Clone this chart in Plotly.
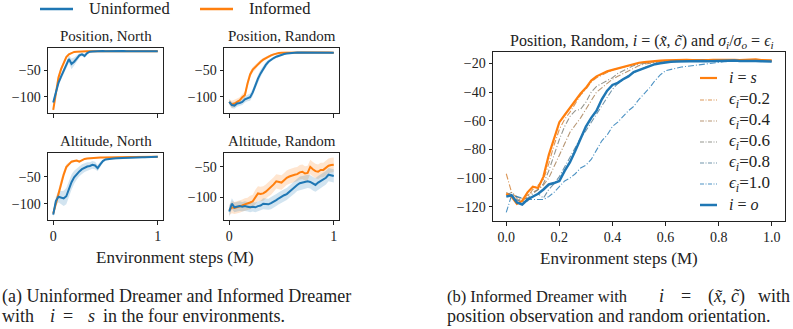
import plotly.graph_objects as go

W, H = 793, 329

# ---------------- data: left panel (four environments) ----------------
left_x = [0.0, 0.025, 0.05, 0.075, 0.1, 0.125, 0.15, 0.175, 0.2, 0.225, 0.25, 0.275, 0.3, 0.325,
          0.35, 0.375, 0.4, 0.425, 0.45, 0.475, 0.5, 0.525, 0.55, 0.575, 0.6, 0.625, 0.65, 0.675,
          0.7, 0.725, 0.75, 0.775, 0.8, 0.825, 0.85, 0.875, 0.9, 0.925, 0.95, 0.975, 1.0]

pos_north_unin = [-111, -90, -74, -62, -52, -40, -29, -38, -34, -28, -22, -20, -23, -17.5, -15, -14.5,
                  -14, -14.3, -14, -13.8, -14.2, -14, -14.1, -13.9, -14, -14.2, -14, -13.9, -14.1, -14,
                  -14, -13.8, -14, -14.2, -14, -13.9, -14, -14.1, -14, -13.9, -14.2]
pos_north_unin_sd = [6, 6, 5, 5, 5, 6, 7, 10, 8, 6, 4, 3, 4, 2, 1.5, 1, 1, 1, 1, 1, 1, 1, 1, 1, 1, 1,
                     1, 1, 1, 1, 1, 1, 1, 1, 1, 1, 1, 1, 1, 1, 1]
pos_north_inf = [-125, -92, -64, -48, -35, -25, -20, -17, -15.5, -15, -14.5, -14.3, -14.2, -14, -14.1,
                 -13.9, -14, -14.1, -14, -13.9, -14, -14.2, -14, -13.9, -14, -14.1, -14, -13.9, -14.1,
                 -14, -14, -13.9, -14, -14.1, -14, -13.9, -14, -14.1, -14, -13.9, -14.1]
pos_north_inf_sd = [4, 6, 6, 5, 4, 3, 2, 1.5, 1, 1, 1, 1, 1, 1, 1, 1, 1, 1, 1, 1, 1, 1, 1, 1, 1, 1, 1,
                    1, 1, 1, 1, 1, 1, 1, 1, 1, 1, 1, 1, 1, 1]

pos_rand_unin = [-110, -116, -117, -113, -112, -110, -105, -103, -101, -92, -78, -66, -56, -47, -40,
                 -34, -30, -27, -24.5, -22.5, -21, -19.5, -18.5, -17.5, -17, -16.8, -16.5, -16.6, -16.3,
                 -16.5, -16.2, -16.4, -16.5, -16.3, -16.4, -16.6, -16.3, -16.5, -16.8, -16.6, -17]
pos_rand_unin_sd = [5, 6, 6, 6, 6, 6, 6, 6, 7, 7, 7, 7, 7, 6, 5, 4, 3, 3, 2.5, 2, 2, 2, 1.5, 1.5, 1.5,
                    1.5, 1.5, 1.5, 1.5, 1.5, 1.5, 1.5, 1.5, 1.5, 1.5, 1.5, 1.5, 1.5, 1.5, 1.5, 1.5]
pos_rand_inf = [-110, -115, -113, -110, -107, -101, -97, -75, -58, -49, -44, -38, -34, -30, -27, -24,
                -22, -20, -18.5, -17.5, -17, -16.8, -16.5, -16.7, -16.4, -16.6, -16.3, -16.5, -16.6,
                -16.4, -16.3, -16.5, -16.6, -16.4, -16.5, -16.3, -16.6, -16.5, -16.4, -16.7, -16.8]
pos_rand_inf_sd = [5, 7, 7, 6, 6, 6, 6, 7, 6, 5, 5, 4, 4, 3, 3, 2.5, 2, 2, 1.5, 1.5, 1.5, 1.2, 1.2, 1.2,
                   1.2, 1.2, 1.2, 1.2, 1.2, 1.2, 1.2, 1.2, 1.2, 1.2, 1.2, 1.2, 1.2, 1.2, 1.2, 1.2, 1.2]

alt_north_unin = [-120, -95, -87, -88, -90, -86, -72, -60, -51, -45, -40, -36, -33, -31, -30, -28, -29,
                  -34, -27, -21, -18, -17, -16.5, -16, -15.8, -15.5, -15.3, -15, -15, -14.8, -14.5,
                  -14.6, -14.3, -14, -14, -13.8, -13.6, -13.5, -13.4, -13.2, -13]
alt_north_unin_sd = [5, 8, 10, 12, 14, 15, 15, 14, 12, 10, 9, 9, 8, 8, 7, 7, 7, 6, 5, 3, 2, 1.5, 1.5,
                     1.5, 1.5, 1.5, 1.5, 1.5, 1.5, 1.5, 1.5, 1.5, 1.5, 1.5, 1.5, 1.5, 1.5, 1.5, 1.5,
                     1.5, 1.5]
alt_north_inf = [-118, -100, -82, -62, -46, -32, -26, -22, -21, -20, -22, -19, -17, -16, -15.5, -15,
                 -14.8, -14.6, -14.5, -14.4, -14.2, -14.1, -14, -14, -13.9, -13.8, -13.7, -13.7, -13.6,
                 -13.5, -13.4, -13.4, -13.3, -13.2, -13.2, -13.1, -13, -13, -12.9, -12.8, -12.8]
alt_north_inf_sd = [4, 8, 10, 9, 7, 5, 3, 2, 2, 2, 2, 1.5, 1.5, 1, 1, 1, 1, 1, 1, 1, 1, 1, 1, 1, 1, 1,
                    1, 1, 1, 1, 1, 1, 1, 1, 1, 1, 1, 1, 1, 1, 1]

alt_rand_unin = [-124, -111, -117, -116, -115, -116, -115, -116, -117, -116, -117, -115, -114, -111,
                 -112, -112, -110, -108, -105, -102, -99, -97, -95, -91, -87, -84, -80, -77, -76, -75,
                 -74, -75, -78, -80, -76, -73, -71, -68, -63, -64, -65]
alt_rand_unin_sd = [9, 9, 8, 8, 8, 8, 8, 8, 8, 8, 8, 8, 8, 9, 9, 9, 10, 10, 10, 10, 10, 10, 10, 10, 10,
                    10, 10, 11, 11, 11, 11, 11, 11, 11, 11, 11, 11, 11, 11, 11, 11]
alt_rand_inf = [-122, -117, -118, -117, -116, -114, -112, -111, -109, -107, -100, -94, -95, -94, -91,
                -87, -84, -79, -74, -75, -76, -72, -68, -66, -64, -63, -62, -59, -58, -61, -60, -50,
                -54, -57, -58, -55, -55, -52, -48, -47, -46.5]
alt_rand_inf_sd = [8, 10, 10, 10, 10, 10, 10, 10, 11, 11, 12, 12, 12, 12, 12, 12, 12, 12, 12, 12, 12,
                   12, 12, 12, 12, 12, 12, 12, 12, 12, 12, 12, 12, 12, 12, 12, 12, 12, 12, 12, 12]

# ---------------- data: right panel (noise levels) ----------------
right_x = [0.0, 0.02, 0.04, 0.06, 0.08, 0.1, 0.12, 0.14, 0.16, 0.18, 0.2, 0.22, 0.24, 0.26, 0.28, 0.3,
           0.32, 0.34, 0.36, 0.38, 0.4, 0.42, 0.44, 0.46, 0.48, 0.5, 0.52, 0.54, 0.56, 0.58, 0.6,
           0.62, 0.64, 0.66, 0.68, 0.7, 0.72, 0.74, 0.76, 0.78, 0.8, 0.82, 0.84, 0.86, 0.88, 0.9,
           0.92, 0.94, 0.96, 0.98, 1.0]

inf_s = [-111, -113, -118, -116, -110, -106, -107, -99, -84, -72, -61, -56, -51, -46, -41, -37, -32,
         -29, -27, -25.5, -24.5, -23.5, -22, -21, -20, -19.5, -19, -18.5, -18.3, -18, -17.8, -17.6,
         -17.8, -17.5, -17.4, -17.7, -17.5, -17.3, -17.6, -17.5, -17.4, -17.6, -17.3, -17.5, -17.7,
         -17.4, -17.5, -17.2, -17.6, -17.8, -17.9]
eps_02 = [-97, -110, -114, -116, -113, -108, -105, -101, -90, -77, -66, -59, -54, -48, -42, -38, -33,
          -30, -28, -26, -24.5, -23.5, -22.5, -21.5, -20.5, -19.8, -19.2, -18.8, -18.5, -18.2, -18,
          -17.9, -18.1, -17.8, -17.9, -18, -17.7, -17.9, -18, -17.8, -17.9, -18.1, -17.8, -17.9, -18,
          -17.8, -17.9, -18.1, -18, -18.2, -18.3]
eps_04 = [-110, -112, -116, -114, -112, -110, -108, -105, -100, -92, -84, -76, -68, -63, -58, -52, -46,
          -40, -37, -34, -31, -29, -27, -25, -23, -21.5, -20.5, -19.8, -19.2, -18.8, -18.5, -18.3,
          -18.4, -18.2, -18.1, -18.3, -18, -18.2, -18.1, -17.9, -18.1, -18, -18.2, -17.9, -18, -18.1,
          -17.9, -18, -18.2, -18.1, -18.3]
eps_06 = [-112, -110, -113, -115, -114, -111, -108, -104, -95, -84, -73, -64, -57, -53, -52, -47, -40,
          -36, -34, -32, -30, -27, -25, -23, -21.5, -20.5, -19.8, -19.2, -18.8, -18.5, -18.3, -18.2,
          -18.4, -18.1, -18.2, -18, -18.3, -18.1, -17.9, -18.2, -18, -18.1, -17.9, -18.2, -18, -18.1,
          -18.3, -18, -18.2, -18.3, -18.4]
eps_08 = [-111, -113, -115, -117, -116, -113, -111, -114, -108, -104, -99, -92, -85, -78, -72, -67, -61,
          -55, -49, -43, -38, -34, -31, -28.5, -26.5, -24.5, -23, -21.5, -20.5, -19.8, -19.2, -18.9,
          -18.7, -18.5, -18.6, -18.4, -18.3, -18.5, -18.2, -18.4, -18.3, -18.1, -18.4, -18.2, -18.3,
          -18.5, -18.3, -18.4, -18.6, -18.5, -18.7]
eps_10 = [-124, -112, -113, -114, -115, -115, -115, -115, -113, -110, -106, -102, -100, -97, -93, -91,
          -87, -81, -74, -70, -64, -61, -57, -53, -50, -45, -41, -37, -32, -28, -25, -24, -23, -22.5,
          -22, -21.5, -21, -20.5, -20, -19.5, -19, -18.8, -18.6, -18.5, -18.4, -18.3, -18.4, -18.2,
          -18.3, -18.4, -18.5]
inf_o = [-113, -112, -117, -118.5, -115, -113, -111, -108, -104.5, -103.5, -102, -95, -89, -81, -73,
         -64, -58, -53, -45, -39, -35, -33.5, -31, -29, -26, -24.5, -23, -21.5, -20.5, -19.8, -19.2,
         -18.8, -18.6, -18.5, -18.3, -18.6, -18.4, -18.2, -18.5, -18.3, -18.1, -18.4, -18.2, -18.0,
         -18.3, -18.1, -17.9, -18.2, -18.4, -18.6, -18.7]

left_titles = ["Position, North", "Position, Random", "Altitude, North", "Altitude, Random"]
legend_top = ["Uninformed", "Informed"]
eps_labels = ["0.2", "0.4", "0.6", "0.8", "1.0"]
left_yticks = [-50, -100]
right_yticks = [-20, -40, -60, -80, -100, -120]
right_xticks = [0.0, 0.2, 0.4, 0.6, 0.8, 1.0]

# ---------------- styling ----------------
BLUE = "#1f77b4"
ORANGE = "#ff7f0e"
AXC = "#222222"
FONT = "Liberation Serif, Times New Roman, serif"
eps_colors = ["rgba(210,125,47,0.8)", "rgba(165,124,80,0.8)", "rgba(121,122,114,0.8)",
              "rgba(76,120,147,0.8)", "rgba(31,119,180,0.8)"]


def px(x):
    return x / W


def py(y):
    return 1 - y / H


fig = go.Figure()

panels = [
    (48, 163, 48, 113, [-131, -8], pos_north_unin, pos_north_unin_sd, pos_north_inf, pos_north_inf_sd, False),
    (224, 339, 48, 113, [-131, -8], pos_rand_unin, pos_rand_unin_sd, pos_rand_inf, pos_rand_inf_sd, False),
    (48, 163, 153, 220, [-130, -6], alt_north_unin, alt_north_unin_sd, alt_north_inf, alt_north_inf_sd, True),
    (224, 339, 153, 220, [-138, -27], alt_rand_unin, alt_rand_unin_sd, alt_rand_inf, alt_rand_inf_sd, True),
]

axis_common = dict(showgrid=False, zeroline=False, showline=True, mirror=True, linecolor=AXC,
                   linewidth=1, ticks="outside", ticklen=3.5, tickwidth=1, tickcolor=AXC,
                   tickfont=dict(family=FONT, size=14, color=AXC))

layout_axes = {}
for k, (x0, x1, yt, yb, yr, unin, unin_sd, inf, inf_sd, showx) in enumerate(panels):
    n = k + 1
    xa = "x" if n == 1 else f"x{n}"
    ya = "y" if n == 1 else f"y{n}"
    for mean, sd, fillc in [(inf, inf_sd, "rgba(255,127,14,0.2)"),
                            (unin, unin_sd, "rgba(31,119,180,0.2)")]:
        upper = [m + s for m, s in zip(mean, sd)]
        lower = [m - s for m, s in zip(mean, sd)]
        fig.add_trace(go.Scatter(x=left_x + left_x[::-1], y=upper + lower[::-1], fill="toself",
                                 fillcolor=fillc, line=dict(width=0), mode="lines",
                                 hoverinfo="skip", showlegend=False, xaxis=xa, yaxis=ya))
    for mean, col in [(inf, ORANGE), (unin, BLUE)]:
        fig.add_trace(go.Scatter(x=left_x, y=mean, mode="lines", line=dict(color=col, width=2),
                                 showlegend=False, xaxis=xa, yaxis=ya))
    kx = "xaxis" if n == 1 else f"xaxis{n}"
    ky = "yaxis" if n == 1 else f"yaxis{n}"
    layout_axes[kx] = dict(axis_common, domain=[px(x0), px(x1)], range=[-0.05, 1.05],
                           tickvals=[0, 1], ticktext=["0", "1"], showticklabels=showx, anchor=ya)
    layout_axes[ky] = dict(axis_common, domain=[py(yb), py(yt)], range=yr, tickvals=left_yticks,
                           anchor=xa)

for vals, col in zip([eps_02, eps_04, eps_06, eps_08, eps_10], eps_colors):
    fig.add_trace(go.Scatter(x=right_x, y=vals, mode="lines",
                             line=dict(color=col, width=1.1, dash="6px,2px,1px,2px"),
                             showlegend=False, xaxis="x5", yaxis="y5"))
fig.add_trace(go.Scatter(x=right_x, y=inf_s, mode="lines", line=dict(color=ORANGE, width=2.2),
                         showlegend=False, xaxis="x5", yaxis="y5"))
fig.add_trace(go.Scatter(x=right_x, y=inf_o, mode="lines", line=dict(color=BLUE, width=2.5),
                         showlegend=False, xaxis="x5", yaxis="y5"))
layout_axes["xaxis5"] = dict(axis_common, domain=[px(493), px(785)], range=[-0.05, 1.05],
                             tickvals=right_xticks, tickformat=".1f", anchor="y5")
layout_axes["yaxis5"] = dict(axis_common, domain=[py(221), py(52)], range=[-130, -12],
                             tickvals=right_yticks, anchor="x5")

annotations = []
shapes = []


def text(x, y, s, size, anchor="center"):
    annotations.append(dict(x=px(x), y=py(y), xref="paper", yref="paper", text=s, showarrow=False,
                            xanchor=anchor, yanchor="middle",
                            font=dict(family=FONT, size=size, color=AXC)))


def seg(x0, x1, y, color, width, dash="solid"):
    shapes.append(dict(type="line", xref="paper", yref="paper", x0=px(x0), x1=px(x1), y0=py(y),
                       y1=py(y), line=dict(color=color, width=width, dash=dash)))


for (x0, x1, yt, yb, *_), t in zip(panels, left_titles):
    text((x0 + x1) / 2, yt - 12, t, 15)
text(642, 41, "Position, Random, <i>i</i> = (<i>x\u0303</i>, <i>c\u0303</i>) and "
     "<i>σ<sub>i</sub></i>/<i>σ<sub>o</sub></i> = <i>ϵ<sub>i</sub></i>", 16)

text(175, 257, "Environment steps (M)", 17)
text(619, 258, "Environment steps (M)", 17)

seg(40, 73, 9, BLUE, 2.5)
text(87, 9, legend_top[0], 16.5, "left")
seg(200, 233, 9, ORANGE, 2.5)
text(247, 9, legend_top[1], 16.5, "left")

rows = [78, 100, 121, 142, 163, 184, 205]
seg(700, 717, rows[0], ORANGE, 2.2)
text(727, rows[0], "<i>i</i> = <i>s</i>", 16, "left")
for r, col, lab in zip(rows[1:6], eps_colors, eps_labels):
    seg(700, 717, r, col, 1.2, "4px,1.5px,1px,1.5px")
    text(727, r, "<i>ϵ<sub>i</sub></i>=" + lab, 17, "left")
seg(700, 717, rows[6], BLUE, 2.5)
text(727, rows[6], "<i>i</i> = <i>o</i>", 16, "left")

# caption (a)
text(0, 296, "(a) Uninformed Dreamer and Informed Dreamer", 18, "left")
text(0, 316, "with", 18, "left")
text(48, 316, "<i>i</i>", 18, "left")
text(68, 316, "=", 18, "center")
text(86, 316, "<i>s</i>", 18, "left")
text(101, 316, "in the four environments.", 18, "left")
# caption (b)
text(445, 296, "(b) Informed Dreamer with", 16.5, "left")
text(657, 296, "<i>i</i>", 18, "left")
text(686, 296, "=", 18, "center")
text(706, 296, "(<i>x\u0303</i>, <i>c\u0303</i>)", 18, "left")
text(792, 296, "with", 18, "right")
text(445, 316, "position observation and random orientation.", 18, "left")

fig.update_layout(width=W, height=H, margin=dict(l=0, r=0, t=0, b=0), paper_bgcolor="white",
                  plot_bgcolor="white", showlegend=False, annotations=annotations, shapes=shapes,
                  font=dict(family=FONT, color=AXC), **layout_axes)

fig.write_html("out.html")
